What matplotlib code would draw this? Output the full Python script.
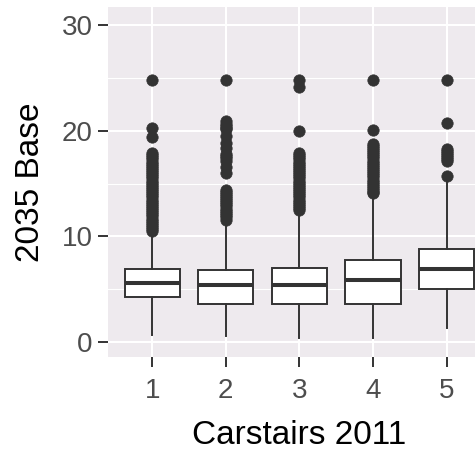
import matplotlib
matplotlib.use("Agg")
import matplotlib.pyplot as plt
from matplotlib.ticker import MultipleLocator

# ---- data ----
categories = ["1", "2", "3", "4", "5"]
q1 = [4.27, 3.6, 3.6, 3.6, 5.0]
median = [5.6, 5.4, 5.4, 5.85, 6.95]
q3 = [6.9, 6.85, 7.05, 7.75, 8.85]
whisker_low = [0.7, 0.55, 0.35, 0.35, 1.3]
whisker_high = [10.0, 11.3, 12.2, 13.6, 15.2]
outliers_1 = [24.8, 20.3, 19.4,
              17.9, 17.7, 17.5, 17.3, 17.1, 16.9, 16.7, 16.5, 16.3, 16.1,
              15.9, 15.7, 15.5, 15.3, 15.1, 14.9, 14.7, 14.5, 14.3, 14.1,
              13.9, 13.7, 13.5, 13.3, 13.1, 12.9, 12.7, 12.5, 12.3, 12.1,
              11.9, 11.7, 11.5, 11.3, 11.1, 10.9, 10.7, 10.5]
outliers_2 = [24.8, 20.9, 20.7, 20.5, 20.3, 20.15, 19.5, 18.9, 18.4,
              17.8, 17.6, 17.4, 17.15, 16.6, 16.0,
              14.45, 14.25, 14.05, 13.85, 13.65, 13.45, 13.25, 13.05,
              12.85, 12.65, 12.45, 12.25, 12.05, 11.85, 11.6]
outliers_3 = [24.8, 24.2, 20.0,
              17.9, 17.7, 17.5, 17.3, 17.1, 16.9, 16.7, 16.5, 16.3, 16.1,
              15.9, 15.7, 15.5, 15.3, 15.1, 14.9, 14.7, 14.5, 14.3, 14.1,
              13.9, 13.7, 13.5, 13.3, 13.1, 12.9, 12.7, 12.55]
outliers_4 = [24.8, 20.05,
              18.8, 18.6, 18.4, 18.2, 18.0, 17.8, 17.6, 17.4, 17.2, 17.0,
              16.8, 16.6, 16.4, 16.2, 16.0, 15.8, 15.6, 15.4, 15.2, 15.0,
              14.8, 14.6, 14.4, 14.2, 14.1]
outliers_5 = [24.8, 20.8, 18.3, 18.1, 17.9, 17.7, 17.5, 17.3, 17.15, 15.7]
outliers = [outliers_1, outliers_2, outliers_3, outliers_4, outliers_5]
y_ticks = [0, 10, 20, 30]
x_label = "Carstairs 2011"
y_label = "2035 Base"

# ---- figure ----
plt.rcParams["font.family"] = ["Liberation Sans", "DejaVu Sans"]
fig = plt.figure(figsize=(4.75, 4.54), dpi=100)
ax = fig.add_axes([108 / 475, 1 - 357 / 454, 367 / 475, 350 / 454])

panel_bg = "#EEEAEE"
ax.set_facecolor(panel_bg)
for s in ax.spines.values():
    s.set_visible(False)

positions = list(range(1, len(categories) + 1))
stats = []
for i in range(len(categories)):
    stats.append(dict(med=median[i], q1=q1[i], q3=q3[i],
                      whislo=whisker_low[i], whishi=whisker_high[i],
                      fliers=outliers[i], label=categories[i]))

dark = "#333333"
ax.bxp(stats, positions=positions, widths=0.75, patch_artist=True,
       showcaps=False,
       boxprops=dict(facecolor="white", edgecolor=dark, linewidth=1.4),
       medianprops=dict(color=dark, linewidth=2.9, solid_capstyle="butt"),
       whiskerprops=dict(color=dark, linewidth=1.4),
       flierprops=dict(marker="o", markersize=8.2, markerfacecolor=dark,
                       markeredgecolor=dark, markeredgewidth=0.5,
                       linestyle="none"),
       zorder=3)

ax.set_xlim(0.4, 0.4 + 367 / 73.6)
ax.set_ylim(-1.42, 31.75)
ax.set_yticks(y_ticks)
ax.yaxis.set_minor_locator(MultipleLocator(5))
ax.set_xticks(positions)
ax.set_xticklabels(categories)

ax.grid(True, which="major", color="white", linewidth=1.5, zorder=0)
ax.grid(True, which="minor", axis="y", color="white", linewidth=0.8, zorder=0)
ax.set_axisbelow(True)

ax.tick_params(axis="both", which="major", length=7, width=1.4, color=dark,
               labelcolor="#4D4D4D", labelsize=20)
ax.tick_params(axis="x", pad=8)
ax.tick_params(axis="y", pad=4)
ax.tick_params(which="minor", length=0)

ax.set_xlabel(x_label, fontsize=24, color="black")
ax.set_ylabel(y_label, fontsize=24, color="black")
ax.xaxis.set_label_coords((299.5 - 108) / 367, (357 - 420) / 350)
ax.xaxis.label.set_va("top")
ax.yaxis.set_label_coords((46 - 108) / 367, 0.5)

fig.savefig("out.png", dpi=100)
